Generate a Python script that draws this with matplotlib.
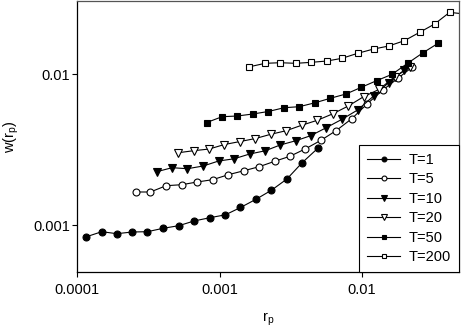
"""Log-log plot of w(r_p) against r_p for several T values."""

import matplotlib

matplotlib.use("Agg")
import matplotlib.pyplot as plt

plt.rcParams["font.family"] = ["Liberation Sans", "DejaVu Sans"]
plt.rcParams["mathtext.default"] = "regular"

# T = 1
rp_t1 = [1.146e-4, 1.485e-4, 1.893e-4, 2.436e-4, 3.106e-4, 4.006e-4, 5.166e-4, 6.618e-4,
         8.53e-4, 1.099e-3, 1.401e-3, 1.806e-3, 2.314e-3, 2.97e-3, 3.80e-3, 4.90e-3]
w_t1 = [8.37e-4, 9.07e-4, 8.80e-4, 9.03e-4, 9.07e-4, 9.55e-4, 9.94e-4, 1.068e-3,
        1.122e-3, 1.173e-3, 1.311e-3, 1.488e-3, 1.706e-3, 2.023e-3, 2.593e-3, 3.232e-3]

# T = 5
rp_t5 = [2.60e-4, 3.26e-4, 4.21e-4, 5.42e-4, 6.95e-4, 8.93e-4, 1.151e-3, 1.475e-3, 1.896e-3,
         2.437e-3, 3.116e-3, 4.006e-3, 5.15e-3, 6.60e-3, 8.51e-3, 1.090e-2, 1.401e-2,
         1.799e-2, 2.258e-2]
w_t5 = [1.660e-3, 1.660e-3, 1.827e-3, 1.855e-3, 1.933e-3, 2.002e-3, 2.160e-3, 2.292e-3,
        2.440e-3, 2.649e-3, 2.858e-3, 3.202e-3, 3.646e-3, 4.231e-3, 5.08e-3, 6.36e-3,
        7.84e-3, 9.41e-3, 1.112e-2]

# T = 10
rp_t10 = [3.617e-4, 4.634e-4, 5.936e-4, 7.656e-4, 9.84e-4, 1.261e-3, 1.626e-3, 2.089e-3,
          2.664e-3, 3.434e-3, 4.363e-3, 5.609e-3, 7.234e-3, 9.31e-3, 1.207e-2, 1.543e-2,
          1.983e-2]
w_t10 = [2.261e-3, 2.403e-3, 2.366e-3, 2.465e-3, 2.661e-3, 2.751e-3, 2.960e-3, 3.108e-3,
         3.395e-3, 3.624e-3, 3.911e-3, 4.417e-3, 5.02e-3, 5.78e-3, 7.15e-3, 8.79e-3,
         1.063e-2]

# T = 20
rp_t20 = [5.133e-4, 6.567e-4, 8.44e-4, 1.081e-3, 1.394e-3, 1.786e-3, 2.284e-3, 2.935e-3,
          3.773e-3, 4.85e-3, 6.234e-3, 8.01e-3, 1.026e-2, 1.323e-2, 1.696e-2, 2.186e-2]
w_t20 = [3.019e-3, 3.112e-3, 3.193e-3, 3.420e-3, 3.580e-3, 3.747e-3, 3.995e-3, 4.220e-3,
         4.586e-3, 4.943e-3, 5.456e-3, 6.144e-3, 7.079e-3, 7.923e-3, 9.60e-3, 1.107e-2]

# T = 50
rp_t50 = [8.10e-4, 1.041e-3, 1.328e-3, 1.712e-3, 2.194e-3, 2.842e-3, 3.623e-3, 4.694e-3,
          5.985e-3, 7.72e-3, 9.89e-3, 1.275e-2, 1.626e-2, 2.092e-2, 2.685e-2, 3.423e-2]
w_t50 = [4.779e-3, 5.222e-3, 5.278e-3, 5.441e-3, 5.652e-3, 5.989e-3, 6.081e-3, 6.461e-3,
         6.910e-3, 7.377e-3, 8.168e-3, 9.06e-3, 9.95e-3, 1.177e-2, 1.383e-2, 1.595e-2]

# T = 200
rp_t200 = [1.621e-3, 2.089e-3, 2.664e-3, 3.434e-3, 4.399e-3, 5.674e-3, 7.234e-3, 9.31e-3,
           1.207e-2, 1.538e-2, 1.983e-2, 2.541e-2, 3.239e-2, 4.130e-2, 5.283e-2]
w_t200 = [1.117e-2, 1.177e-2, 1.188e-2, 1.177e-2, 1.195e-2, 1.219e-2, 1.270e-2, 1.370e-2,
          1.463e-2, 1.531e-2, 1.660e-2, 1.886e-2, 2.141e-2, 2.557e-2, 2.493e-2]

SERIES = [
    ("T=1", rp_t1, w_t1, "o", "black", 5.0),
    ("T=5", rp_t5, w_t5, "o", "white", 5.0),
    ("T=10", rp_t10, w_t10, "v", "black", 5.5),
    ("T=20", rp_t20, w_t20, "v", "white", 5.5),
    ("T=50", rp_t50, w_t50, "s", "black", 4.5),
    ("T=200", rp_t200, w_t200, "s", "white", 4.5),
]


def main() -> None:
    fig = plt.figure(figsize=(4.63, 3.31), dpi=100)
    ax = fig.add_axes([0.167, 0.177, 0.825, 0.82])

    for label, xs, ys, marker, face, ms in SERIES:
        ax.plot(xs, ys, color="black", linewidth=0.8, marker=marker, markersize=ms,
                markerfacecolor=face, markeredgecolor="black", markeredgewidth=0.8,
                label=label)

    ax.set_xscale("log")
    ax.set_yscale("log")
    ax.set_xlim(1e-4, 0.0483)
    ax.set_ylim(4.88e-4, 0.0304)
    ax.minorticks_off()
    ax.set_xticks([1e-4, 1e-3, 1e-2])
    ax.set_xticklabels(["0.0001", "0.001", "0.01"])
    ax.set_yticks([1e-3, 1e-2])
    ax.set_yticklabels(["0.001", "0.01"])
    ax.tick_params(axis="x", direction="out", length=3.5, width=0.8, pad=4, labelsize=10.5)
    ax.tick_params(axis="y", direction="out", length=3.5, width=0.8, pad=1.5, labelsize=10.5)

    for side in ("left", "bottom"):
        ax.spines[side].set_linewidth(0.9)
        ax.spines[side].set_color("black")
    for side in ("top", "right"):
        ax.spines[side].set_linewidth(0.9)
        ax.spines[side].set_color("#555555")

    ax.set_xlabel(r"r$_{p}$", fontsize=10.5, labelpad=10)
    ax.set_ylabel(r"w(r$_{p}$)", fontsize=10.5, labelpad=9)

    leg = ax.legend(loc="lower right", fontsize=10.5, frameon=True, fancybox=False,
                    edgecolor="black", framealpha=1.0, borderaxespad=0.0,
                    handlelength=2.3, handletextpad=0.6, labelspacing=0.38,
                    borderpad=0.55, markerscale=0.7)
    leg.get_frame().set_linewidth(0.8)

    fig.savefig("out.png", dpi=100)


if __name__ == "__main__":
    main()
